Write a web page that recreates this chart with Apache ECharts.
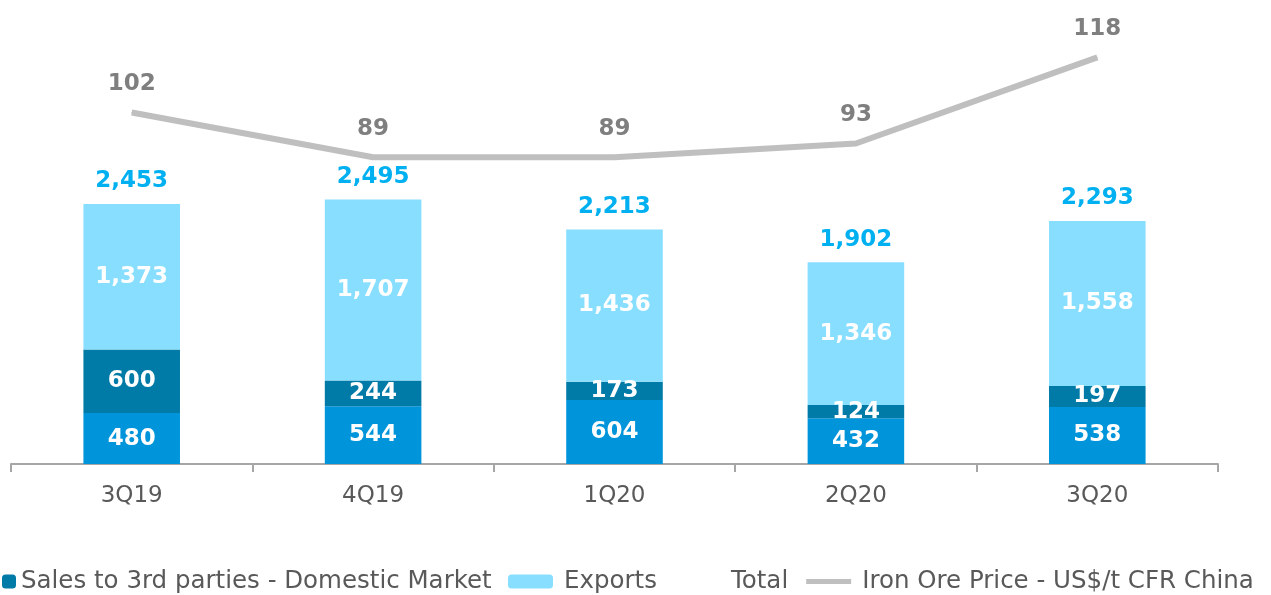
<!DOCTYPE html>
<html>
<head>
<meta charset="utf-8">
<script src="https://cdn.jsdelivr.net/npm/echarts@6/dist/echarts.min.js"></script>
<style>
  html, body { margin: 0; padding: 0; background: #fff; }
  #chart { width: 1271px; height: 595px; }
</style>
</head>
<body>
<div id="chart"></div>
<script>
  // quarters and volumes (kt)
  const quarters = ['3Q19', '4Q19', '1Q20', '2Q20', '3Q20'];
  const other = [480, 544, 604, 432, 538];
  const domestic = [600, 244, 173, 124, 197];
  const exportsVol = [1373, 1707, 1436, 1346, 1558];
  const totals = [2453, 2495, 2213, 1902, 2293];
  const ironOre = [102, 89, 89, 93, 118];

  const font = 'DejaVu Sans, Verdana, sans-serif';
  const fmt = v => v.toLocaleString('en-US');

  const innerLabel = {
    show: true,
    position: 'inside',
    color: '#fff',
    fontWeight: 'bold',
    fontSize: 23,
    fontFamily: font,
    formatter: p => fmt(p.value)
  };

  let chart = echarts.init(document.getElementById('chart'));
  chart.setOption({
    animation: false,
    grid: { left: 11, right: 53, top: 16, bottom: 131 },
    legend: [{
      left: 2,
      bottom: 1,
      padding: 0,
      itemWidth: 14,
      itemHeight: 14,
      textStyle: { color: '#595959', fontSize: 24.5, fontFamily: font },
      data: ['Sales to 3rd parties - Domestic Market']
    }, {
      left: 508,
      bottom: 1,
      padding: 0,
      itemWidth: 45,
      itemHeight: 14,
      itemGap: 18,
      textStyle: { color: '#595959', fontSize: 24.5, fontFamily: font, padding: [0, 0, 0, 6] },
      data: [
        'Exports',
        'Total',
        { name: 'Iron Ore Price - US$/t CFR China', icon: 'path://M0,0H45V5H0Z' }
      ]
    }],
    xAxis: {
      type: 'category',
      data: quarters,
      axisLine: { lineStyle: { color: '#a6a6a6', width: 2 } },
      axisTick: { show: true, length: 8, lineStyle: { color: '#a6a6a6', width: 2 } },
      axisLabel: { color: '#595959', fontSize: 23, fontFamily: font, margin: 21 }
    },
    yAxis: [
      { type: 'value', min: 0, max: 4226, show: false },
      { type: 'value', min: 0, max: 130, show: false }
    ],
    series: [{
      name: 'Other',
      type: 'bar',
      stack: 'vol',
      barWidth: '40%',
      itemStyle: { color: '#0094da' },
      label: innerLabel,
      data: other
    }, {
      name: 'Sales to 3rd parties - Domestic Market',
      type: 'bar',
      stack: 'vol',
      itemStyle: { color: '#007aa6' },
      label: innerLabel,
      data: domestic
    }, {
      name: 'Exports',
      type: 'bar',
      stack: 'vol',
      itemStyle: { color: '#88deff' },
      label: innerLabel,
      data: exportsVol
    }, {
      name: 'Total',
      type: 'bar',
      stack: 'vol',
      itemStyle: { color: 'rgba(0,0,0,0)' },
      label: {
        show: true,
        position: 'top',
        distance: 11,
        color: '#00b0f0',
        fontWeight: 'bold',
        fontSize: 23,
        fontFamily: font,
        formatter: p => fmt(totals[p.dataIndex])
      },
      data: totals.map(() => 0)
    }, {
      name: 'Iron Ore Price - US$/t CFR China',
      type: 'line',
      yAxisIndex: 1,
      symbol: 'circle',
      symbolSize: 1,
      lineStyle: { color: '#bfbfbf', width: 6 },
      itemStyle: { color: '#bfbfbf' },
      label: {
        show: true,
        position: 'top',
        distance: 16,
        color: '#7f7f7f',
        fontWeight: 'bold',
        fontSize: 23,
        fontFamily: font
      },
      data: ironOre
    }]
  });
</script>
</body>
</html>
